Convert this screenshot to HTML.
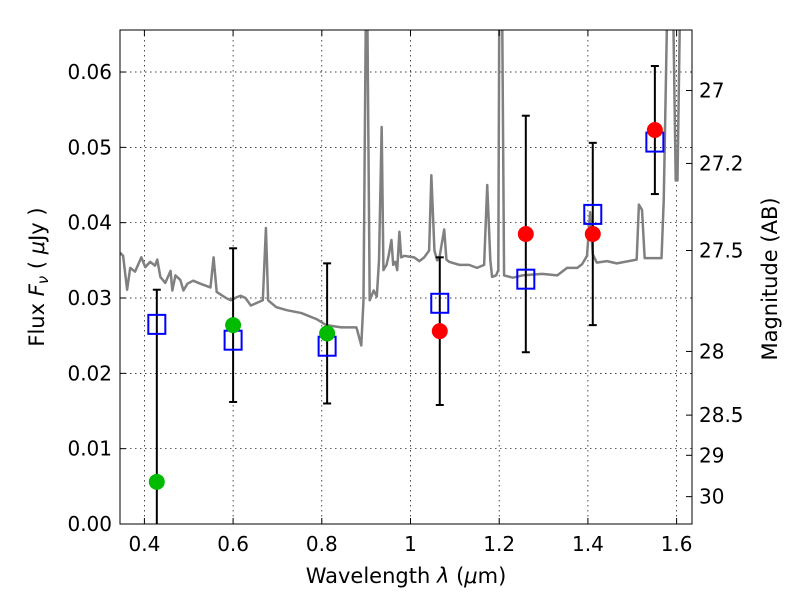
<!DOCTYPE html>
<html><head><meta charset="utf-8"><style>
html,body{margin:0;padding:0;background:#fff;overflow:hidden;width:800px;height:600px}
svg{display:block;font-family:"DejaVu Sans","Liberation Sans",sans-serif}
</style></head><body>
<svg id="c" width="800" height="600" xmlns="http://www.w3.org/2000/svg"></svg>
<script>
const specW=[0.345,0.352,0.361,0.368,0.379,0.393,0.402,0.413,0.424,0.429,0.436,0.447,0.459,0.463,0.47,0.481,0.488,0.497,0.51,0.526,0.549,0.556,0.563,0.584,0.595,0.608,0.617,0.628,0.64,0.667,0.674,0.679,0.697,0.72,0.754,0.788,0.799,0.81,0.844,0.878,0.88,0.889,0.894,0.899,0.903,0.908,0.917,0.924,0.929,0.935,0.939,0.946,0.951,0.957,0.961,0.966,0.97,0.975,0.979,0.986,0.997,1.008,1.02,1.031,1.042,1.047,1.054,1.06,1.065,1.076,1.081,1.087,1.11,1.132,1.15,1.166,1.173,1.18,1.184,1.193,1.198,1.2,1.207,1.211,1.231,1.252,1.274,1.297,1.331,1.353,1.376,1.387,1.398,1.405,1.411,1.42,1.443,1.465,1.51,1.515,1.522,1.528,1.555,1.566,1.571,1.578,1.593,1.598,1.602,1.607];
const specF=[0.036,0.0356,0.0311,0.034,0.0335,0.0354,0.0341,0.0348,0.0343,0.0351,0.0328,0.032,0.0336,0.031,0.033,0.0324,0.031,0.0319,0.0323,0.0319,0.0314,0.0354,0.0308,0.03,0.0297,0.0301,0.0303,0.03,0.029,0.0297,0.0393,0.0297,0.0288,0.0284,0.028,0.0272,0.0268,0.0264,0.0261,0.0261,0.0257,0.0237,0.0297,0.08,0.08,0.0297,0.031,0.0302,0.0350,0.0527,0.0337,0.0344,0.0357,0.0377,0.0344,0.0348,0.0337,0.0388,0.0354,0.0356,0.0355,0.0354,0.0349,0.0354,0.0363,0.0463,0.0363,0.035,0.0353,0.0391,0.0351,0.0348,0.0344,0.0344,0.034,0.0344,0.0450,0.0350,0.0328,0.0330,0.0337,0.08,0.08,0.0330,0.0327,0.033,0.0331,0.0332,0.033,0.034,0.034,0.0345,0.0356,0.0414,0.0358,0.0347,0.0349,0.0346,0.0351,0.0424,0.0417,0.0353,0.0353,0.0353,0.0430,0.08,0.08,0.0456,0.0456,0.08];
const bandW=[0.428,0.6,0.812,1.066,1.26,1.411,1.551];
const obsF=[0.0056,0.0264,0.0253,0.0256,0.0385,0.0385,0.0523];
const obsErr=[0.0255,0.0102,0.0093,0.0098,0.0157,0.0121,0.0085];
const obsColor=["#00bb00","#00bb00","#00bb00","#ff0000","#ff0000","#ff0000","#ff0000"];
const modelF=[0.0265,0.0244,0.0236,0.0293,0.0325,0.0411,0.0507];
const xTicks=[0.4,0.6,0.8,1.0,1.2,1.4,1.6];
const xTickLabels=["0.4","0.6","0.8","1","1.2","1.4","1.6"];
const yTicks=[0,0.01,0.02,0.03,0.04,0.05,0.06];
const magTicks=[27,27.2,27.5,28,28.5,29,30];

const L=120,R=692,T=30,B=524,NS="http://www.w3.org/2000/svg";
const x=w=>144.4+(w-0.4)*443.5;
const y=f=>524-f*7533;
const svg=document.getElementById('c');
function el(t,a,p){const e=document.createElementNS(NS,t);for(const k in a)e.setAttribute(k,a[k]);(p||svg).appendChild(e);return e;}
const defs=el('defs',{});const cp=el('clipPath',{id:'pc'},defs);el('rect',{x:L,y:T,width:R-L,height:B-T},cp);
const grid=el('g',{stroke:'#000','stroke-width':0.7,'stroke-dasharray':'1.5,3.5'});

xTicks.forEach(v=>el('line',{x1:x(v),x2:x(v),y1:T,y2:B},grid));
yTicks.forEach(v=>el('line',{x1:L,x2:R,y1:y(v),y2:y(v)},grid));
const g=el('g',{'clip-path':'url(#pc)'});
const sp=el('polyline',{points:specW.map((w,i)=>x(w)+','+y(Math.min(specF[i],0.0657))).join(' '),fill:'none',stroke:'#808080','stroke-width':2.5,'stroke-linejoin':'round'},g);

bandW.forEach((w,i)=>{
 const e=el('g',{stroke:'#000','stroke-width':2},g);
 
 const lo=obsF[i]-obsErr[i];
 const t=y(obsF[i]+obsErr[i]),b=y(Math.max(0,lo));
 el('line',{x1:x(w),x2:x(w),y1:t,y2:b},e);
 el('line',{x1:x(w)-4,x2:x(w)+4,y1:t,y2:t},e);
 if(lo>=0)el('line',{x1:x(w)-4,x2:x(w)+4,y1:b,y2:b},e);
});
bandW.forEach((w,i)=>{
 const s=el('rect',{x:x(w)-8.5,y:y(modelF[i])-9.5,width:17,height:19,fill:'none',stroke:'#0000ff','stroke-width':2},g);
 
});
bandW.forEach((w,i)=>{
 const c=el('circle',{cx:x(w),cy:y(obsF[i]),r:8,fill:obsColor[i]},g);
 
});
const fr=el('rect',{x:L,y:T,width:R-L,height:B-T,fill:'none',stroke:'#000','stroke-width':1});

xTicks.forEach((v,i)=>{
 el('line',{x1:x(v),x2:x(v),y1:B,y2:B-6,stroke:'#000'});el('line',{x1:x(v),x2:x(v),y1:T,y2:T+6,stroke:'#000'});
 const t=el('text',{x:x(v),y:B+27,'text-anchor':'middle','font-size':20});t.textContent=xTickLabels[i];
 
});
yTicks.forEach(v=>{
 el('line',{x1:L,x2:L+6,y1:y(v),y2:y(v),stroke:'#000'});
 const t=el('text',{x:L-8,y:y(v)+7,'text-anchor':'end','font-size':20});t.textContent=v.toFixed(2);
 
});
magTicks.forEach(m=>{
 const f=Math.pow(10,(23.9-m)/2.5),yy=y(f);
 el('line',{x1:R,x2:R-6,y1:yy,y2:yy,stroke:'#000'});
 const t=el('text',{x:R+7,y:yy+7,'font-size':20});t.textContent=String(m);
 
});
let t=el('text',{x:406,y:583,'text-anchor':'middle','font-size':21});
t.innerHTML='Wavelength  <tspan font-style="italic">λ</tspan> (<tspan font-style="italic">μ</tspan>m)';

t=el('text',{x:44,y:277,'text-anchor':'middle','font-size':21,transform:'rotate(-90 44 277)'});
t.innerHTML='Flux  <tspan font-style="italic">F</tspan><tspan font-style="italic" font-size="15" dy="4">ν</tspan><tspan dy="-4">  ( </tspan><tspan font-style="italic">μ</tspan>Jy )';

t=el('text',{x:777,y:279,'text-anchor':'middle','font-size':21,transform:'rotate(-90 777 279)'});
t.textContent='Magnitude (AB)';

</script>
</body></html>
